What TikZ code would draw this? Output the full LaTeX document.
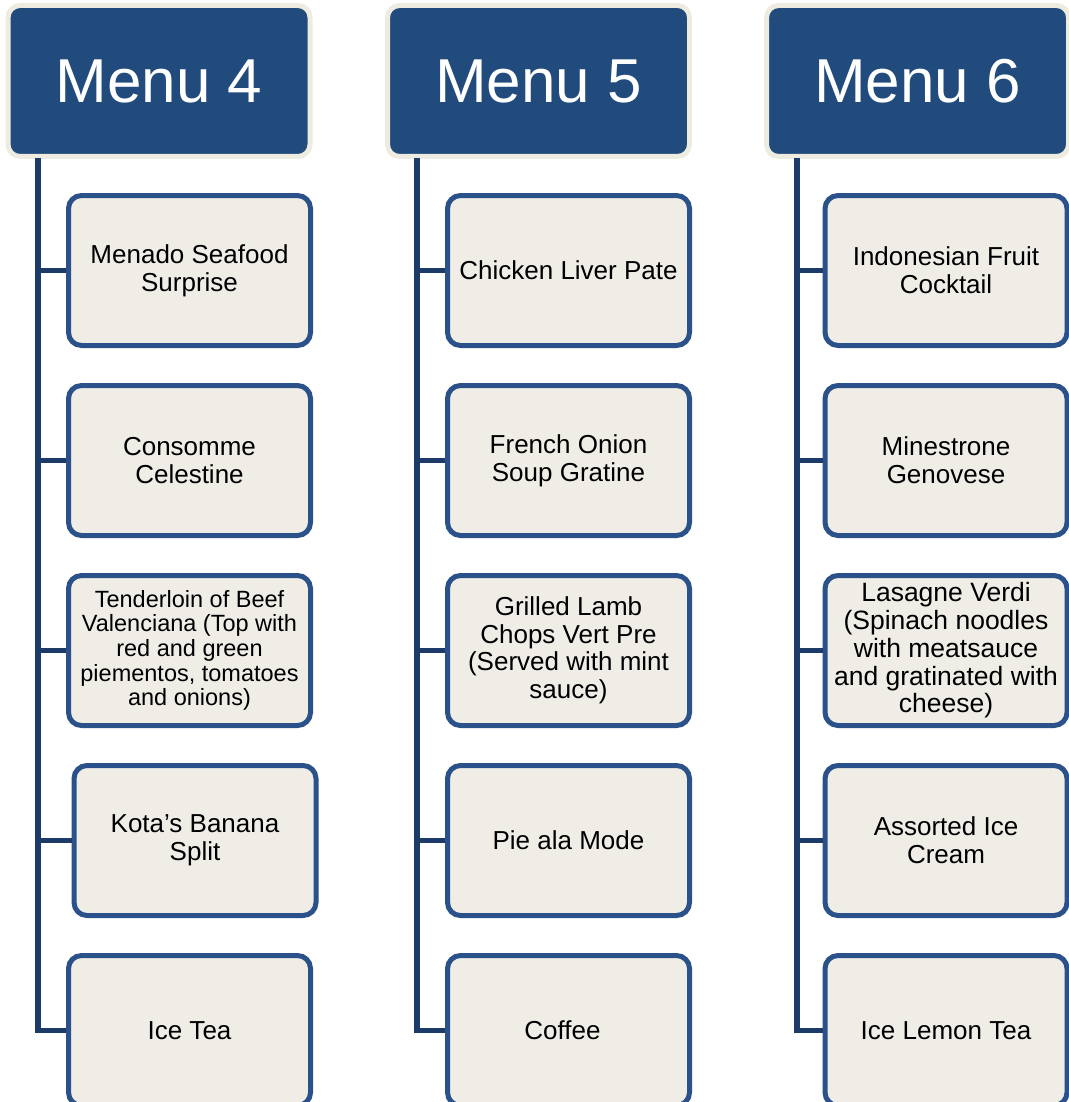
\documentclass[tikz,border=0pt]{standalone}
\usepackage{fontspec}
\setmainfont{Liberation Sans}
\definecolor{headblue}{HTML}{214A7D}
\definecolor{cream}{HTML}{EEECE1}
\definecolor{boxblue}{HTML}{2A5189}
\definecolor{boxfill}{HTML}{EFEDE6}
\definecolor{lineblue}{HTML}{1C3B68}
\begin{document}
\begin{tikzpicture}[x=1pt,y=-1pt,
  head/.style={draw=cream, fill=headblue, line width=5pt, rounded corners=12pt,
    minimum width=302pt, minimum height=151pt, inner sep=0pt, text=white,
    font=\fontsize{62}{70}\selectfont},
  dish/.style={draw=boxblue, fill=boxfill, line width=5pt, rounded corners=13pt,
    minimum width=242pt, minimum height=150pt, inner sep=0pt, align=center,
    font=\fontsize{26}{28}\selectfont},
  conn/.style={draw=lineblue, line width=5.5pt}]
\useasboundingbox (0,0) rectangle (1068,1102);

% menu headers
\node[head] (h4) at (159,81) {Menu 4};
\node[head] (h5) at (538.5,81) {Menu 5};
\node[head] (h6) at (917.5,81) {Menu 6};

% spine start points under each header
\coordinate (s4) at (38,158);
\coordinate (s5) at (417,158);
\coordinate (s6) at (797,158);

% Menu 4 dishes
\node[dish] (a1) at (189.5,270.5) {Menado Seafood\\Surprise};
\node[dish] (a2) at (189.5,460.5) {Consomme\\Celestine};
\node[dish, font=\fontsize{23.5}{24.6}\selectfont] (a3) at (189.5,650.5)
  {Tenderloin of Beef\\Valenciana (Top with\\red and green\\piementos, tomatoes\\and onions)};
\node[dish] (a4) at (195,840.5) {Kota’s Banana\\Split};
\node[dish] (a5) at (189.5,1030.5) {Ice Tea};

% Menu 5 dishes
\node[dish] (b1) at (568.5,270.5) {Chicken Liver Pate};
\node[dish] (b2) at (568.5,460.5) {French Onion\\Soup Gratine};
\node[dish, font=\fontsize{26}{27.5}\selectfont] (b3) at (568.5,650.5)
  {Grilled Lamb\\Chops Vert Pre\\(Served with mint\\sauce)};
\node[dish] (b4) at (568.5,840.5) {Pie ala Mode};
\node[dish] (b5) at (568.5,1030.5) {\hspace*{-12pt}Coffee};

% Menu 6 dishes
\begin{scope}[every node/.append style={minimum width=237pt}]
\node[dish] (c1) at (946,270.5) {Indonesian Fruit\\Cocktail};
\node[dish] (c2) at (946,460.5) {Minestrone\\Genovese};
\node[dish, font=\fontsize{26.5}{27.7}\selectfont] (c3) at (946,650.5)
  {Lasagne Verdi\\(Spinach noodles\\with meatsauce\\and gratinated with\\cheese)};
\node[dish] (c4) at (946,840.5) {Assorted Ice\\Cream};
\node[dish] (c5) at (946,1030.5) {Ice Lemon Tea};
\end{scope}

% connectors: spine down to the last dish, branches to the others
\draw[conn] (s4) |- (a5.west);
\foreach \n in {a1,a2,a3,a4} \draw[conn] (s4 |- \n.west) -- (\n.west);
\draw[conn] (s5) |- (b5.west);
\foreach \n in {b1,b2,b3,b4} \draw[conn] (s5 |- \n.west) -- (\n.west);
\draw[conn] (s6) |- (c5.west);
\foreach \n in {c1,c2,c3,c4} \draw[conn] (s6 |- \n.west) -- (\n.west);
\end{tikzpicture}
\end{document}
